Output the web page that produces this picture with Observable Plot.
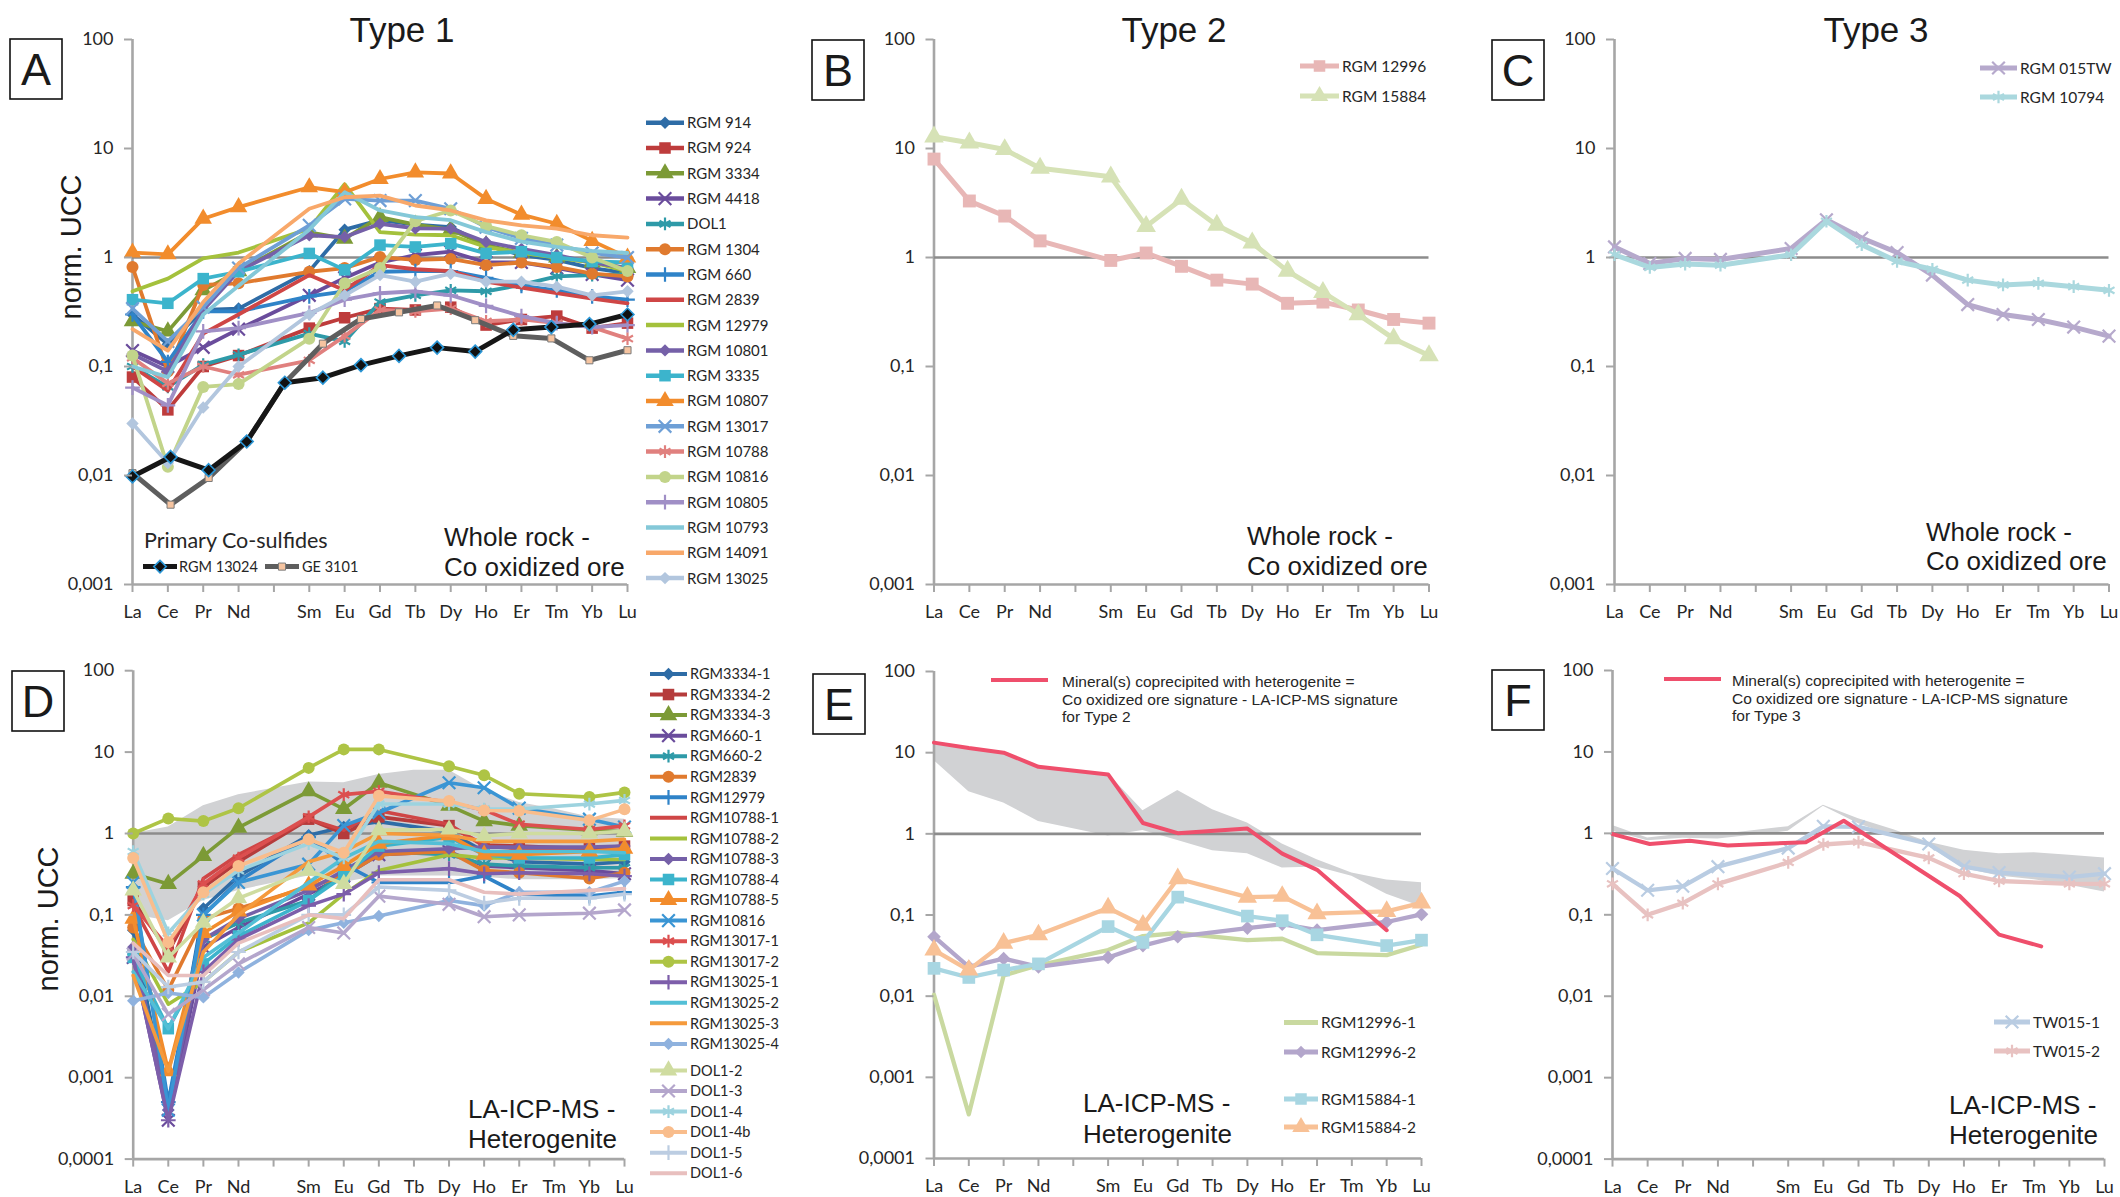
<!DOCTYPE html>
<html><head><meta charset="utf-8"><title>REE patterns - Type 1, 2, 3</title>
<script src="https://cdn.jsdelivr.net/npm/d3@7"></script>
<script src="https://cdn.jsdelivr.net/npm/@observablehq/plot@0.6"></script>
<style>
html,body{margin:0;padding:0;background:#fff;}
#root{position:relative;width:2120px;height:1197px;overflow:hidden;background:#fff;}
.panel{position:absolute;}
#overlay{position:absolute;left:0;top:0;pointer-events:none;}
</style></head>
<body><div id="root"></div>
<script>
// ---------------- categories / ticks ----------------
const REE = ["La","Ce","Pr","Nd","Pm","Sm","Eu","Gd","Tb","Dy","Ho","Er","Tm","Yb","Lu"];
const WR_EL = ["La","Ce","Pr","Nd","Sm","Eu","Gd","Tb","Dy","Ho","Er","Tm","Yb","Lu"];   // whole rock
const LA_EL = ["La","Ce","Pr","Nd","Sm","Eu","Gd","Dy","Ho","Er","Yb","Lu"];             // LA-ICP-MS
const RED_E_EL = ["La","Ce","Pr","Nd","Sm","Eu","Gd","Dy","Ho","Er","Yb"];
const Y_TICKS_TOP = [0.001, 0.01, 0.1, 1, 10, 100];
const Y_TICKS_BOTTOM = [0.0001, 0.001, 0.01, 0.1, 1, 10, 100];

// ---------------- Panel A : Type 1, whole rock (WR_EL order) ----------------
const rgm914   = [0.30, 0.16, 0.33, 0.34, 0.75, 1.8, 2.2, 2.0, 1.9, 1.3, 1.05, 0.95, 0.8, 0.72];
const rgm924   = [0.08, 0.04, 0.10, 0.126, 0.225, 0.28, 0.34, 0.33, 0.35, 0.24, 0.27, 0.29, 0.225, 0.25];
const rgm3334  = [0.26, 0.21, 0.5, 0.75, 1.7, 1.49, 2.35, 2.0, 1.8, 1.3, 1.1, 1.0, 0.9, 0.8];
const rgm4418  = [0.14, 0.1, 0.15, 0.22, 0.45, 0.65, 0.9, 1.05, 1.13, 0.9, 0.9, 0.8, 0.7, 0.62];
const dol1     = [0.1, 0.065, 0.104, 0.128, 0.2, 0.17, 0.39, 0.45, 0.5, 0.49, 0.56, 0.67, 0.69, 0.7];
const rgm1304  = [0.82, 0.09, 0.56, 0.58, 0.74, 0.8, 1.01, 0.95, 0.97, 0.85, 0.9, 0.82, 0.71, 0.67];
const rgm660   = [0.3, 0.11, 0.32, 0.32, 0.44, 0.49, 0.74, 0.75, 0.75, 0.65, 0.55, 0.5, 0.44, 0.41];
const rgm2839  = [0.1, 0.06, 0.2, 0.3, 0.69, 0.5, 0.85, 0.78, 0.75, 0.6, 0.53, 0.47, 0.42, 0.38];
const rgm12979 = [0.49, 0.64, 0.98, 1.11, 1.84, 4.7, 1.71, 1.62, 1.6, 1.25, 1.1, 1.0, 0.9, 0.75];
const rgm10801 = [0.13, 0.09, 0.33, 0.75, 1.6, 1.54, 2.04, 1.85, 1.84, 1.39, 1.2, 1.05, 0.9, 0.8];
const rgm3335  = [0.41, 0.38, 0.64, 0.74, 1.09, 0.77, 1.3, 1.25, 1.34, 1.09, 1.13, 1.0, 0.92, 0.9];
const rgm10807 = [1.11, 1.07, 2.27, 2.9, 4.41, 3.97, 5.25, 6.04, 5.9, 3.45, 2.47, 2.04, 1.42, 1.0];
const rgm13017 = [0.34, 0.17, 0.35, 0.8, 1.97, 3.45, 3.33, 3.33, 2.8, 1.9, 1.5, 1.3, 1.1, 1.0];
const rgm10788 = [0.12, 0.07, 0.1, 0.084, 0.114, 0.19, 0.33, 0.32, 0.34, 0.26, 0.27, 0.25, 0.23, 0.18];
const rgm10816 = [0.126, 0.012, 0.065, 0.069, 0.18, 0.58, 0.8, 2.15, 2.7, 1.94, 1.6, 1.39, 1.0, 0.75];
const rgm10805 = [0.064, 0.044, 0.21, 0.225, 0.31, 0.41, 0.47, 0.49, 0.45, 0.36, 0.29, 0.25, 0.23, 0.24];
const rgm10793 = [0.1, 0.08, 0.3, 0.55, 1.8, 3.97, 2.7, 2.35, 2.2, 1.71, 1.4, 1.25, 1.15, 1.1];
const rgm14091 = [0.22, 0.14, 0.39, 0.88, 2.8, 3.57, 3.7, 3.0, 2.7, 2.19, 1.97, 1.84, 1.6, 1.52];
const rgm13025 = [0.03, 0.013, 0.042, 0.1, 0.3, 0.45, 0.69, 0.6, 0.71, 0.6, 0.6, 0.54, 0.45, 0.49];
// primary Co-sulfides (14 points spread evenly over the axis, as in the original)
const rgm13024 = [0.0098, 0.0148, 0.0112, 0.0205, 0.071, 0.079, 0.103, 0.125, 0.149, 0.137, 0.217, 0.23, 0.245, 0.30];
const ge3101   = [0.0105, 0.0054, 0.0095, 0.0205, 0.071, 0.162, 0.273, 0.314, 0.363, 0.266, 0.191, 0.181, 0.114, 0.141];

// ---------------- Panel B : Type 2, whole rock ----------------
const rgm12996 = [8.0, 3.3, 2.4, 1.42, 0.94, 1.1, 0.83, 0.62, 0.57, 0.38, 0.39, 0.33, 0.27, 0.25];
const rgm15884 = [12.8, 11.3, 9.8, 6.6, 5.5, 1.93, 3.43, 1.98, 1.36, 0.75, 0.48, 0.30, 0.18, 0.126];

// ---------------- Panel C : Type 3, whole rock ----------------
const rgm015tw = [1.25, 0.88, 0.98, 0.96, 1.21, 2.22, 1.51, 1.11, 0.69, 0.37, 0.30, 0.27, 0.23, 0.19];
const rgm10794 = [1.06, 0.81, 0.87, 0.85, 1.06, 2.15, 1.31, 0.92, 0.78, 0.62, 0.56, 0.58, 0.54, 0.50];

// ---------------- Panel D : Type 1, LA-ICP-MS heterogenite (LA_EL order) ----------------
const d3334_1  = [0.065, 0.0004, 0.12, 0.3, 0.95, 1.2, 1.4, 1.05, 0.6, 0.45, 0.42, 0.45];
const d3334_2  = [0.15, 0.035, 0.22, 0.45, 1.5, 1.0, 1.6, 1.25, 0.72, 0.7, 0.65, 0.7];
const d3334_3  = [0.32, 0.24, 0.53, 1.18, 3.3, 2.0, 4.2, 2.2, 1.42, 1.25, 1.1, 1.05];
const d660_1   = [0.03, 0.0003, 0.04, 0.07, 0.18, 0.3, 0.55, 0.6, 0.4, 0.38, 0.35, 0.32];
const d660_2   = [0.035, 0.0005, 0.05, 0.08, 0.15, 0.35, 0.6, 0.55, 0.42, 0.4, 0.38, 0.38];
const d2839    = [0.07, 0.012, 0.09, 0.12, 0.22, 0.3, 0.55, 0.6, 0.35, 0.33, 0.28, 0.33];
const d12979   = [0.22, 0.0005, 0.1, 0.26, 0.9, 0.42, 0.25, 0.25, 0.3, 0.18, 0.17, 0.19];
const d10788_1 = [0.13, 0.02, 0.28, 0.55, 1.5, 1.1, 1.9, 1.3, 0.7, 0.65, 0.6, 0.62];
const d10788_2 = [0.05, 0.008, 0.015, 0.035, 0.08, 0.18, 0.35, 0.55, 0.5, 0.5, 0.48, 0.48];
const d10788_3 = [0.04, 0.0004, 0.05, 0.09, 0.2, 0.35, 0.6, 0.65, 0.68, 0.68, 0.68, 0.7];
const d10788_4 = [0.03, 0.004, 0.025, 0.055, 0.15, 0.3, 0.7, 0.9, 0.55, 0.5, 0.5, 0.55];
const d10788_5 = [0.09, 0.0012, 0.06, 0.11, 0.23, 0.4, 0.75, 0.95, 0.55, 0.55, 0.6, 0.65];
const d10816   = [0.25, 0.0004, 0.1, 0.25, 0.42, 1.25, 1.8, 4.2, 3.65, 2.05, 1.5, 1.2];
const d13017_1 = [0.13, 0.04, 0.24, 0.5, 1.6, 3.0, 3.3, 2.4, 1.95, 1.3, 1.12, 1.24];
const d13017_2 = [1.0, 1.53, 1.42, 2.04, 6.4, 10.8, 10.8, 6.7, 5.2, 3.08, 2.8, 3.2];
const d13025_1 = [0.03, 0.0003, 0.02, 0.05, 0.13, 0.18, 0.33, 0.37, 0.32, 0.33, 0.32, 0.3];
const d13025_2 = [0.02, 0.004, 0.03, 0.06, 0.25, 0.5, 0.8, 0.75, 0.6, 0.6, 0.6, 0.58];
const d13025_3 = [0.018, 0.0012, 0.035, 0.1, 0.45, 0.6, 1.0, 0.95, 0.8, 0.8, 0.8, 0.85];
const d13025_4 = [0.0088, 0.011, 0.0097, 0.0196, 0.065, 0.08, 0.097, 0.15, 0.13, 0.19, 0.19, 0.26];
const dDol1_2  = [0.2, 0.03, 0.08, 0.16, 0.35, 0.24, 1.1, 1.12, 0.93, 1.0, 1.0, 1.07];
const dDol1_3  = [0.033, 0.006, 0.012, 0.025, 0.07, 0.06, 0.17, 0.135, 0.095, 0.1, 0.105, 0.115];
const dDol1_4  = [0.6, 0.06, 0.18, 0.35, 0.75, 0.5, 2.3, 2.3, 2.0, 2.0, 2.3, 2.55];
const dDol1_4b = [0.5, 0.046, 0.19, 0.4, 0.85, 0.58, 2.9, 2.5, 1.92, 1.9, 1.45, 1.98];
const dDol1_5  = [0.035, 0.013, 0.015, 0.035, 0.1, 0.1, 0.22, 0.2, 0.14, 0.16, 0.16, 0.18];
const dDol1_6  = [0.045, 0.018, 0.018, 0.045, 0.1, 0.09, 0.27, 0.27, 0.19, 0.18, 0.2, 0.21];
// grey envelope in D (Type 1 whole-rock field, WR_EL order)
const bandD_hi = [1.0, 1.2, 2.2, 3.0, 4.3, 4.2, 5.3, 6.0, 6.0, 3.4, 2.4, 2.0, 1.6, 1.5];
const bandD_lo = [0.1, 0.085, 0.15, 0.2, 0.3, 0.25, 0.3, 0.3, 0.3, 0.29, 0.27, 0.27, 0.27, 0.28];

// ---------------- Panel E : Type 2, LA-ICP-MS ----------------
const e12996_1 = [0.0104, 0.00035, 0.018, 0.024, 0.037, 0.055, 0.06, 0.049, 0.051, 0.034, 0.032, 0.043];
const e12996_2 = [0.054, 0.023, 0.029, 0.023, 0.030, 0.042, 0.054, 0.069, 0.077, 0.065, 0.082, 0.102];
const e15884_1 = [0.022, 0.017, 0.021, 0.025, 0.072, 0.046, 0.166, 0.097, 0.085, 0.057, 0.042, 0.049];
const e15884_2 = [0.037, 0.021, 0.045, 0.057, 0.122, 0.075, 0.28, 0.166, 0.17, 0.104, 0.111, 0.141];
const redE     = [13.3, 11.4, 10.0, 6.7, 5.4, 1.36, 1.02, 1.16, 0.57, 0.36, 0.065];

// ---------------- Panel F : Type 3, LA-ICP-MS ----------------
const tw015_1 = [0.37, 0.20, 0.224, 0.39, 0.66, 1.22, 1.2, 0.74, 0.39, 0.33, 0.29, 0.32];
const tw015_2 = [0.24, 0.10, 0.139, 0.24, 0.44, 0.73, 0.78, 0.50, 0.32, 0.26, 0.24, 0.24];
const redF_x  = [0, 1.06, 2.2, 3.28, 5.5, 6.58, 9.88, 11.0, 12.2];   // positions as drawn in the original
const redF    = [0.98, 0.74, 0.81, 0.71, 0.78, 1.43, 0.17, 0.057, 0.041];

// ---------------- helpers ----------------
const ix = el => REE.indexOf(el);
const rowsOf = (els, vals) => els.map((e, i) => ({x: ix(e), y: vals[i]})).filter(d => d.y != null);
const rowsAt = (xs, vals) => xs.map((x, i) => ({x, y: vals[i]}));
const spread = WR_EL.map((e, i) => i * (REE.length - 1) / (WR_EL.length - 1));
const envelope = (a, b) => WR_EL.map((e, i) => ({x: ix(e), lo: Math.min(a[i], b[i]), hi: Math.max(a[i], b[i])}));
const fmtY = d => String(d).replace(".", ",");
const STROKE_SYMS = new Set(["times", "asterisk", "plus"]);
const DEF_R = {square: 6.5, circle: 6, triangle: 6.5, diamond2: 5.6, times: 5.8, asterisk: 6, plus: 4.8};

const root = document.getElementById("root");

function drawPanel(cfg) {
  const marks = [];
  if (cfg.band) marks.push(Plot.areaY(cfg.band, {x: "x", y1: "lo", y2: "hi", fill: "#d1d2d4"}));
  marks.push(Plot.ruleX([0], {stroke: "#a6a6a6", strokeWidth: 2.6}));
  marks.push(Plot.ruleY([cfg.yMin], {stroke: "#a6a6a6", strokeWidth: 2.6}));
  marks.push(Plot.ruleY([1], {stroke: "#8c8c8c", strokeWidth: 2.6}));
  for (const s of cfg.series) {
    marks.push(Plot.line(s.rows, {x: "x", y: "y", stroke: s.color, strokeWidth: s.lw || cfg.lw || 4}));
    if (s.sym) {
      const st = STROKE_SYMS.has(s.sym);
      marks.push(Plot.dot(s.rows, {
        x: "x", y: "y", symbol: s.sym,
        r: (s.r || DEF_R[s.sym]) * (cfg.rScale || 1),
        fill: st ? "none" : (s.mfill || s.color),
        stroke: st ? s.color : (s.mstroke || "none"),
        strokeWidth: st ? 2.2 : (s.msw || 1)
      }));
    }
  }
  marks.push(Plot.axisX({ticks: d3.range(REE.length), tickFormat: i => REE[i] === "Pm" ? "" : REE[i], label: null,
    tickSize: 8, tickPadding: 13, stroke: "#a6a6a6", strokeWidth: 2, fill: "#262626"}));
  marks.push(Plot.axisY({ticks: cfg.yTicks, tickFormat: fmtY, label: null, tickSize: 8, tickPadding: 11,
    stroke: "#a6a6a6", strokeWidth: 2, fill: "#262626"}));
  const svg = Plot.plot({
    width: cfg.width, height: cfg.height,
    marginLeft: cfg.mL, marginRight: cfg.mR, marginTop: cfg.mT, marginBottom: cfg.mB,
    x: {type: "linear", domain: [0, REE.length - 1], label: null},
    y: {type: "log", domain: [cfg.yMin, 100], label: null},
    marks,
    style: {fontFamily: "Lato, 'Open Sans', sans-serif", fontSize: "18px", color: "#262626", background: "none", overflow: "visible"}
  });
  const div = document.createElement("div");
  div.className = "panel";
  div.style.left = cfg.left + "px";
  div.style.top = cfg.top + "px";
  div.appendChild(svg);
  root.appendChild(div);
}

// ---------------- series styles ----------------
const seriesA = [
  ["RGM 914", rgm914, "#2e6ca6", "diamond2"],
  ["RGM 924", rgm924, "#be3c3c", "square"],
  ["RGM 3334", rgm3334, "#7c9a36", "triangle"],
  ["RGM 4418", rgm4418, "#6a4c9c", "times"],
  ["DOL1", dol1, "#2e9aa8", "asterisk"],
  ["RGM 1304", rgm1304, "#e07a2e", "circle"],
  ["RGM 660", rgm660, "#2f83c8", "plus"],
  ["RGM 2839", rgm2839, "#cf4646", null],
  ["RGM 12979", rgm12979, "#a4c13c", null],
  ["RGM 10801", rgm10801, "#7560a8", "diamond2"],
  ["RGM 3335", rgm3335, "#3cb4cc", "square"],
  ["RGM 10807", rgm10807, "#f28c2c", "triangle"],
  ["RGM 13017", rgm13017, "#6e9fd6", "times"],
  ["RGM 10788", rgm10788, "#e0807e", "asterisk"],
  ["RGM 10816", rgm10816, "#c2d48a", "circle"],
  ["RGM 10805", rgm10805, "#a08fc6", "plus"],
  ["RGM 10793", rgm10793, "#84c8d8", null],
  ["RGM 14091", rgm14091, "#f8a86a", null],
  ["RGM 13025", rgm13025, "#b2c6de", "diamond2"]
];
const seriesD = [
  ["RGM3334-1", d3334_1, "#2e6ca6", "diamond2"],
  ["RGM3334-2", d3334_2, "#b53b3b", "square"],
  ["RGM3334-3", d3334_3, "#7c9a36", "triangle"],
  ["RGM660-1", d660_1, "#6a4c9c", "times"],
  ["RGM660-2", d660_2, "#2e9aa8", "asterisk"],
  ["RGM2839", d2839, "#e07a2e", "circle"],
  ["RGM12979", d12979, "#2f83c8", "plus"],
  ["RGM10788-1", d10788_1, "#cf4646", null],
  ["RGM10788-2", d10788_2, "#a4c13c", null],
  ["RGM10788-3", d10788_3, "#7560a8", "diamond2"],
  ["RGM10788-4", d10788_4, "#3cb4cc", "square"],
  ["RGM10788-5", d10788_5, "#f28c2c", "triangle"],
  ["RGM10816", d10816, "#3a95d4", "times"],
  ["RGM13017-1", d13017_1, "#dc4f4f", "asterisk"],
  ["RGM13017-2", d13017_2, "#aec445", "circle"],
  ["RGM13025-1", d13025_1, "#7d5eaa", "plus"],
  ["RGM13025-2", d13025_2, "#53bfd6", null],
  ["RGM13025-3", d13025_3, "#f59a3c", null],
  ["RGM13025-4", d13025_4, "#8fb2de", "diamond2"],
  ["DOL1-2", dDol1_2, "#cfdca0", "triangle"],
  ["DOL1-3", dDol1_3, "#b4a6cc", "times"],
  ["DOL1-4", dDol1_4, "#9dd3df", "asterisk"],
  ["DOL1-4b", dDol1_4b, "#f9bd8c", "circle"],
  ["DOL1-5", dDol1_5, "#bccde2", "plus"],
  ["DOL1-6", dDol1_6, "#e8bfbe", null]
];
const seriesB = [["RGM 12996", rgm12996, "#e8b7b6", "square"], ["RGM 15884", rgm15884, "#d6e2b6", "triangle"]];
const seriesC = [["RGM 015TW", rgm015tw, "#b6a9cc", "times"], ["RGM 10794", rgm10794, "#aad8de", "asterisk"]];
const seriesE = [
  ["RGM12996-1", e12996_1, "#c9d9a0", null],
  ["RGM12996-2", e12996_2, "#b3a6cb", "diamond2"],
  ["RGM15884-1", e15884_1, "#a8d6e2", "square"],
  ["RGM15884-2", e15884_2, "#f8c196", "triangle"]
];
const seriesF = [["TW015-1", tw015_1, "#b9cce2", "times"], ["TW015-2", tw015_2, "#e8c2c1", "asterisk"]];
const RED = "#ef4f6c";

const toS = (list, els) => list.map(([name, vals, color, sym]) => ({name, rows: rowsOf(els, vals), color, sym}));

// ---------------- panels ----------------
drawPanel({left: 0, top: 0, width: 645, height: 630, mL: 132, mR: 18, mT: 39, mB: 46, yMin: 0.001, yTicks: Y_TICKS_TOP, lw: 3.8,
  series: [
    ...toS(seriesA, WR_EL),
    {rows: rowsAt(spread, ge3101), color: "#5e5e5e", sym: "square", r: 4, mfill: "#f6c4a0", mstroke: "#7a7a7a", msw: 1, lw: 5},
    {rows: rowsAt(spread, rgm13024), color: "#161616", sym: "diamond2", r: 5.8, mfill: "#111", mstroke: "#2a96d6", msw: 1.6, lw: 5}
  ]});
drawPanel({left: 800, top: 0, width: 645, height: 630, mL: 133.5, mR: 16.5, mT: 39, mB: 46, yMin: 0.001, yTicks: Y_TICKS_TOP, lw: 5, rScale: 1.12,
  series: toS(seriesB, WR_EL)});
drawPanel({left: 1480, top: 0, width: 640, height: 630, mL: 134, mR: 11.5, mT: 39, mB: 46, yMin: 0.001, yTicks: Y_TICKS_TOP, lw: 5,
  series: toS(seriesC, WR_EL)});
drawPanel({left: 0, top: 640, width: 640, height: 557, mL: 132.7, mR: 16, mT: 30.2, mB: 38.4, yMin: 0.0001, yTicks: Y_TICKS_BOTTOM, lw: 3.6,
  band: WR_EL.map((e, i) => ({x: ix(e), lo: bandD_lo[i], hi: bandD_hi[i]})),
  series: toS(seriesD, LA_EL)});
drawPanel({left: 800, top: 640, width: 640, height: 557, mL: 133.5, mR: 19, mT: 31, mB: 39, yMin: 0.0001, yTicks: Y_TICKS_BOTTOM, lw: 4.3, rScale: 1.1,
  band: envelope(rgm12996, rgm15884),
  series: [...toS(seriesE, LA_EL), {rows: rowsOf(RED_E_EL, redE), color: RED, sym: null, lw: 4}]});
drawPanel({left: 1480, top: 640, width: 640, height: 557, mL: 132, mR: 16, mT: 30, mB: 38.4, yMin: 0.0001, yTicks: Y_TICKS_BOTTOM, lw: 4.3,
  band: envelope(rgm015tw, rgm10794),
  series: [...toS(seriesF, LA_EL), {rows: rowsAt(redF_x, redF), color: RED, sym: null, lw: 4}]});

// ---------------- overlay: titles, panel letters, notes, legends ----------------
const SYM = {circle: d3.symbolCircle, square: d3.symbolSquare, triangle: d3.symbolTriangle, diamond2: d3.symbolDiamond2,
             times: d3.symbolTimes, asterisk: d3.symbolAsterisk, plus: d3.symbolPlus};
const ov = d3.create("svg").attr("id", "overlay").attr("width", 2120).attr("height", 1197)
  .style("font-family", "'Liberation Sans', Arial, sans-serif").style("fill", "#1a1a1a");

// titles
[["Type 1", 402], ["Type 2", 1174], ["Type 3", 1876]].forEach(([t, x]) =>
  ov.append("text").attr("x", x).attr("y", 41.5).attr("text-anchor", "middle").attr("font-size", 35).text(t));

// panel letters
[["A", 10, 39], ["B", 812, 40], ["C", 1492, 40], ["D", 12, 671], ["E", 813, 674], ["F", 1492, 670]].forEach(([t, x, y]) => {
  ov.append("rect").attr("x", x).attr("y", y).attr("width", 52).attr("height", 60).attr("fill", "#fff").attr("stroke", "#111").attr("stroke-width", 1.6);
  ov.append("text").attr("x", x + 26).attr("y", y + 46).attr("text-anchor", "middle").attr("font-size", 45).text(t);
});

// y labels
[[81, 247], [58, 919]].forEach(([x, y]) =>
  ov.append("text").attr("transform", `translate(${x},${y}) rotate(-90)`).attr("text-anchor", "middle").attr("font-size", 29).text("norm. UCC"));

// notes
function note(x, y, lines, lh) {
  lines.forEach((l, i) => ov.append("text").attr("x", x).attr("y", y + i * lh).attr("font-size", 26).text(l));
}
note(444, 546, ["Whole rock -", "Co oxidized ore"], 30);
note(1247, 545, ["Whole rock -", "Co oxidized ore"], 30);
note(1926, 541, ["Whole rock -", "Co oxidized ore"], 29);
note(468, 1118, ["LA-ICP-MS -", "Heterogenite"], 29.5);
note(1083, 1112, ["LA-ICP-MS -", "Heterogenite"], 31);
note(1949, 1114, ["LA-ICP-MS -", "Heterogenite"], 30);

// legend row
function legendRow(x, y, len, color, sym, label, o = {}) {
  ov.append("line").attr("x1", x).attr("x2", x + len).attr("y1", y).attr("y2", y)
    .attr("stroke", color).attr("stroke-width", o.lw || 4.5);
  if (sym) {
    const r = (o.r || DEF_R[sym]) * (o.rScale || 1);
    const st = STROKE_SYMS.has(sym);
    ov.append("path").attr("d", d3.symbol(SYM[sym], Math.PI * r * r)())
      .attr("transform", `translate(${x + len / 2},${y})`)
      .attr("fill", st ? "none" : (o.mfill || color))
      .attr("stroke", st ? color : (o.mstroke || "none"))
      .attr("stroke-width", st ? 2.2 : (o.msw || 1));
  }
  if (label) ov.append("text").attr("x", x + len + (o.gap || 3)).attr("y", y).attr("dy", "0.36em")
    .attr("font-family", "Lato, sans-serif").attr("font-size", o.fs || 15).style("fill", "#262626").text(label);
}
seriesA.forEach(([n, v, c, s], i) => legendRow(646, 122.7 + 25.3 * i, 38, c, s, n, {fs: 15}));
seriesD.forEach(([n, v, c, s], i) => legendRow(650, 674 + 20.55 * i + (i >= 19 ? 6 : 0), 37, c, s, n, {fs: 14.5, lw: 4}));
seriesB.forEach(([n, v, c, s], i) => legendRow(1300, 66 + 30 * i, 39, c, s, n, {fs: 15.5, lw: 5}));
seriesC.forEach(([n, v, c, s], i) => legendRow(1980, 68 + 29 * i, 37, c, s, n, {fs: 15.5, lw: 5}));
seriesE.forEach(([n, v, c, s], i) => legendRow(1284, [1022.6, 1052, 1099, 1127][i], 34, c, s, n, {fs: 15.5, lw: 5}));
seriesF.forEach(([n, v, c, s], i) => legendRow(1994, 1022 + 29 * i, 36, c, s, n, {fs: 15.5, lw: 5}));

// primary sulfide legend in A
ov.append("text").attr("x", 144).attr("y", 547.6).attr("font-family", "Lato, sans-serif").attr("font-size", 21.5).style("fill", "#262626").text("Primary Co-sulfides");
legendRow(143, 566.6, 34, "#161616", "diamond2", "RGM 13024", {lw: 5, mfill: "#111", mstroke: "#2a96d6", msw: 1.6, fs: 14.5, gap: 2});
legendRow(265, 566.6, 34, "#5e5e5e", "square", "GE 3101", {lw: 5, r: 4, mfill: "#f6c4a0", mstroke: "#7a7a7a", fs: 14.5, gap: 3});

// red "mineral(s) coprecipitated" legends in E and F
function redLegend(x, y, tx, lines) {
  ov.append("line").attr("x1", x).attr("x2", x + 57).attr("y1", y).attr("y2", y).attr("stroke", RED).attr("stroke-width", 4);
  lines.forEach((l, i) => ov.append("text").attr("x", tx).attr("y", y + 7 + 17.7 * i).attr("font-size", 15.5).style("fill", "#262626").text(l));
}
redLegend(991, 680, 1062, ["Mineral(s) coprecipited with heterogenite =", "Co oxidized ore signature -  LA-ICP-MS signature", "for Type 2"]);
redLegend(1664, 679, 1732, ["Mineral(s) coprecipited with heterogenite =", "Co oxidized ore signature - LA-ICP-MS signature", "for Type 3"]);

root.appendChild(ov.node());
</script>
</body></html>
